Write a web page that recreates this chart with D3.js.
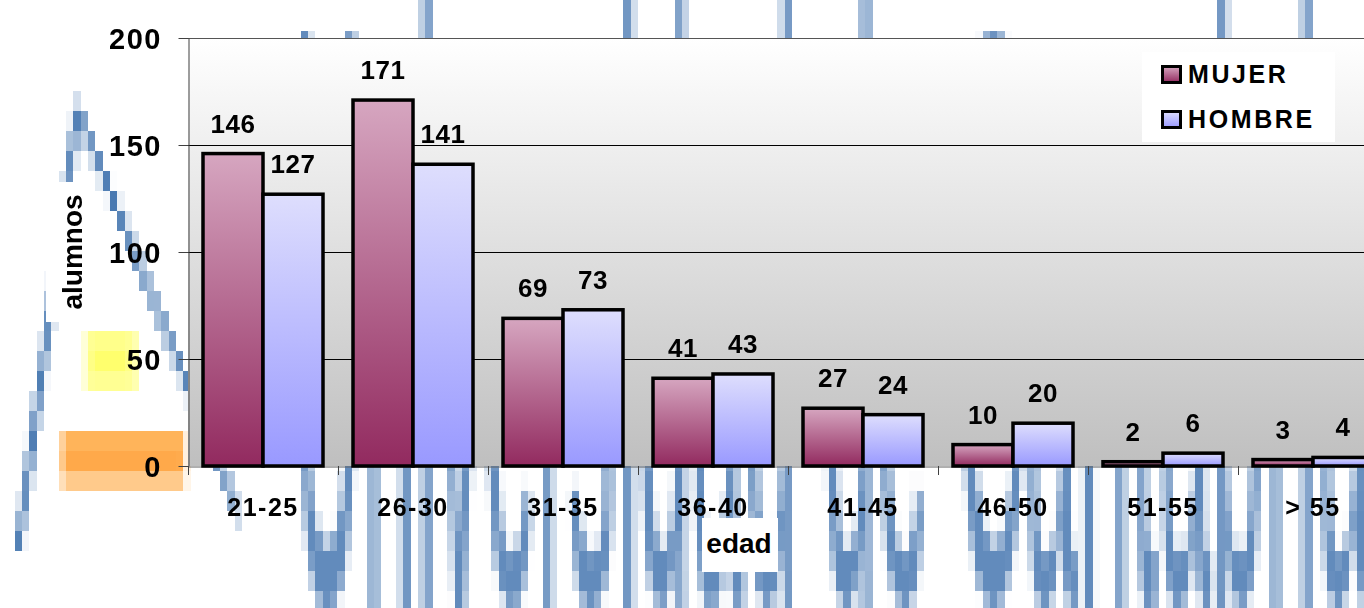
<!DOCTYPE html>
<html>
<head>
<meta charset="utf-8">
<script src="https://cdn.jsdelivr.net/npm/d3@7"></script>
<style>
  html, body { margin: 0; padding: 0; background: #fff; overflow: hidden; }
  #wrap { position: relative; width: 1364px; height: 608px; overflow: hidden; background: #fff; }
  #backdrop { position: absolute; left: 0; top: -9px; width: 1364px; height: 620px; image-rendering: pixelated; }
  #chart { position: absolute; left: 0; top: 0; }
  #chart text { font-family: "Liberation Sans", Arial, sans-serif; font-weight: bold; fill: #000; }
</style>
</head>
<body>
<div id="wrap">
  <canvas id="backdrop" width="186" height="31"></canvas>
  <svg id="chart" width="1364" height="608"></svg>
</div>
<script>
// Age groups and head counts per group
const categories = ["21-25", "26-30", "31-35", "36-40", "41-45", "46-50", "51-55", "> 55"];
const mujer  = [146, 171, 69, 41, 27, 10, 2, 3];
const hombre = [127, 141, 73, 43, 24, 20, 6, 4];
const seriesNames = ["MUJER", "HOMBRE"];
const yTickValues = [0, 50, 100, 150, 200];

// ---- low-resolution institutional backdrop, upscaled with hard pixels ----
(function drawBackdrop() {
  const cv = document.getElementById("backdrop");
  const ctx = cv.getContext("2d");
  ctx.clearRect(0, 0, cv.width, cv.height);

  // wedge emblem
  ctx.strokeStyle = "#4677b0";
  ctx.lineWidth = 1;
  ctx.beginPath();
  ctx.moveTo(2.4, 28);
  ctx.lineTo(10.6, 6);
  ctx.lineTo(32.5, 26);
  ctx.stroke();

  // yellow and orange bands
  ctx.fillStyle = "rgba(255,255,140,0.85)";
  ctx.fillRect(11.6, 17, 7.2, 3);
  ctx.fillStyle = "rgba(255,255,90,0.7)";
  ctx.fillRect(12.5, 17.6, 5, 1.6);
  ctx.fillStyle = "#ffb45a";
  ctx.fillRect(8.4, 22, 16.8, 3);
  ctx.fillStyle = "#ffa94a";
  ctx.fillRect(8.8, 23, 16, 1);
  ctx.fillStyle = "rgba(255,255,255,0.3)";
  ctx.fillRect(8, 24, 18, 1);

  // lettering
  ctx.save();
  ctx.globalAlpha = 0.85;
  ctx.translate(40, 31);
  ctx.scale(0.31, 1);
  ctx.font = '42px "Liberation Sans", Arial, sans-serif';
  ctx.fillStyle = "#4677b0";
  ctx.fillText("Universidad de Cantabria", 0, 0);
  ctx.restore();
})();

// ---- chart ----
const svg = d3.select("#chart");

const plotLeft = 188, plotTop = 38, plotBottom = 466, plotRight = 1388;

const x = d3.scaleBand().domain(categories).range([plotLeft, plotRight]);
const xs = d3.scaleBand().domain(seriesNames).range([0, x.bandwidth()]).paddingOuter(0.25);
const y = d3.scaleLinear().domain([0, 200]).range([plotBottom, plotTop]);

const defs = svg.append("defs");

const bg = defs.append("linearGradient").attr("id", "plotBg")
  .attr("gradientUnits", "userSpaceOnUse")
  .attr("x1", 0).attr("x2", 0).attr("y1", plotTop).attr("y2", plotBottom);
bg.append("stop").attr("offset", "0%").attr("stop-color", "#ffffff");
bg.append("stop").attr("offset", "100%").attr("stop-color", "#bfbfbf");

const seriesFill = {
  MUJER:  ["#d6a6c0", "#922a5f"],
  HOMBRE: ["#dedefd", "#9999ff"]
};
seriesNames.forEach(s => {
  const g = defs.append("linearGradient").attr("id", "grad" + s)
    .attr("x1", 0).attr("x2", 0).attr("y1", 0).attr("y2", 1);
  g.append("stop").attr("offset", "0%").attr("stop-color", seriesFill[s][0]);
  g.append("stop").attr("offset", "100%").attr("stop-color", seriesFill[s][1]);
});

// plot area
svg.append("rect")
  .attr("x", plotLeft).attr("y", plotTop)
  .attr("width", plotRight - plotLeft).attr("height", plotBottom - plotTop)
  .attr("fill", "url(#plotBg)");

// gridlines
svg.append("g").selectAll("line")
  .data(yTickValues.filter(v => v > 0))
  .join("line")
  .attr("x1", plotLeft).attr("x2", plotRight)
  .attr("y1", d => y(d) + 0.5).attr("y2", d => y(d) + 0.5)
  .attr("stroke", d => d === 200 ? "#555" : "#000")
  .attr("stroke-width", 1);

// y axis
const yAxis = svg.append("g")
  .attr("transform", `translate(${plotLeft + 0.5},0)`)
  .call(d3.axisLeft(y).tickValues(yTickValues).tickSize(10).tickSizeOuter(0).tickPadding(24));
yAxis.select(".domain").attr("stroke", "#404040");
yAxis.selectAll(".tick line").attr("stroke", "#404040");
yAxis.selectAll(".tick text")
  .attr("x", -26.5)
  .attr("dy", "0.36em")
  .style("font-size", "29px")
  .style("letter-spacing", "1.5px");

// x axis: labels at group centres, ticks on group boundaries
const xAxis = svg.append("g")
  .attr("transform", `translate(0,${plotBottom + 0.5})`)
  .call(d3.axisBottom(x).tickSize(0).tickSizeOuter(0));
xAxis.select(".domain").attr("stroke", "#606060");
xAxis.selectAll(".tick text")
  .attr("y", 49)
  .attr("dy", 0)
  .style("font-size", "25px")
  .style("letter-spacing", "1.5px");

svg.append("g").selectAll("line")
  .data(categories.map(c => x(c)).concat([plotRight]))
  .join("line")
  .attr("x1", d => d + 0.5).attr("x2", d => d + 0.5)
  .attr("y1", plotBottom).attr("y2", plotBottom + 9)
  .attr("stroke", "#404040");

// bars
const rows = categories.flatMap((c, i) => [
  { cat: c, series: "MUJER",  value: mujer[i] },
  { cat: c, series: "HOMBRE", value: hombre[i] }
]);

svg.append("g").selectAll("rect")
  .data(rows)
  .join("rect")
  .attr("x", d => x(d.cat) + xs(d.series))
  .attr("y", d => y(d.value))
  .attr("width", xs.bandwidth())
  .attr("height", d => y(0) - y(d.value))
  .attr("fill", d => `url(#grad${d.series})`)
  .attr("stroke", "#000")
  .attr("stroke-width", 3.5);

// value labels
svg.append("g").selectAll("text")
  .data(rows)
  .join("text")
  .attr("x", d => x(d.cat) + xs(d.series) + xs.bandwidth() / 2)
  .attr("y", d => y(d.value) - 21)
  .attr("text-anchor", "middle")
  .style("font-size", "26px")
  .style("letter-spacing", "0.5px")
  .text(d => d.value);

// axis titles
svg.append("rect").attr("x", 46).attr("y", 182).attr("width", 44).attr("height", 140).attr("fill", "#fff");
svg.append("text")
  .attr("transform", "translate(82,252) rotate(-90)")
  .attr("text-anchor", "middle")
  .style("font-size", "28px")
  .text("alumnos");

svg.append("rect").attr("x", 702).attr("y", 518).attr("width", 76).attr("height", 54).attr("fill", "#fff");
svg.append("text")
  .attr("x", 739).attr("y", 553)
  .attr("text-anchor", "middle")
  .style("font-size", "28px")
  .text("edad");

// legend
const legend = svg.append("g");
legend.append("rect").attr("x", 1142).attr("y", 52).attr("width", 193).attr("height", 90).attr("fill", "#fff");
const legendItems = legend.selectAll("g.item")
  .data(seriesNames)
  .join("g").attr("class", "item")
  .attr("transform", (d, i) => `translate(1161,${65 + i * 45})`);
legendItems.append("rect")
  .attr("x", 1.5).attr("y", 1.5).attr("width", 18).attr("height", 16)
  .attr("fill", d => `url(#grad${d})`)
  .attr("stroke", "#000").attr("stroke-width", 3);
legendItems.append("text")
  .attr("x", 27).attr("y", 18)
  .style("font-size", "25px")
  .style("letter-spacing", "2.6px")
  .text(d => d);
</script>
</body>
</html>
